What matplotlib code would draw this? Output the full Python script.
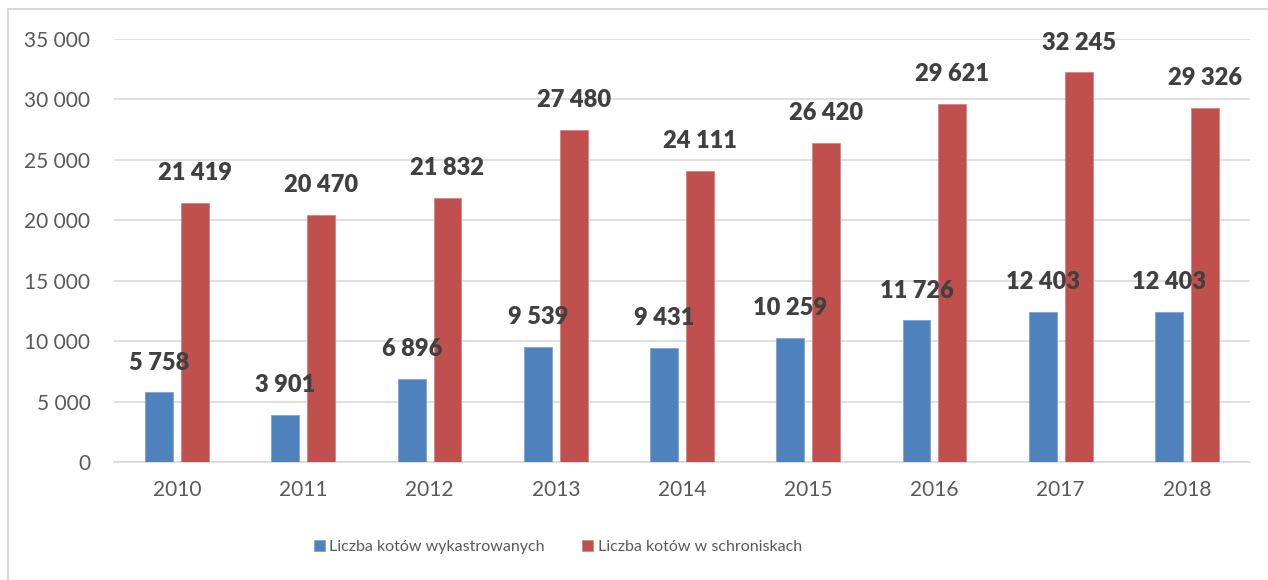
import matplotlib.pyplot as plt
import matplotlib.patches as patches
import numpy as np

years = ['2010', '2011', '2012', '2013', '2014', '2015', '2016', '2017', '2018']
wykastrowane = [5758, 3901, 6896, 9539, 9431, 10259, 11726, 12403, 12403]
schroniska = [21419, 20470, 21832, 27480, 24111, 26420, 29621, 32245, 29326]
labels = ['Liczba kotów wykastrowanych', 'Liczba kotów w schroniskach']
yticks = [0, 5000, 10000, 15000, 20000, 25000, 30000, 35000]

plt.rcParams['font.family'] = ['Lato', 'DejaVu Sans']

W, H = 1268, 580
fig = plt.figure(figsize=(W / 100, H / 100), dpi=100)
ax = fig.add_axes([114 / W, 1 - 462 / H, (1250 - 114) / W, (462 - 39) / H])

def fmt(v):
    # polish thousands separator (space)
    return f'{v:,}'.replace(',', ' ')

x = np.arange(len(years))
off = 0.142
bw = 0.221
b1 = ax.bar(x - off, wykastrowane, bw, color='#4F81BD', edgecolor='#7FA3D1', linewidth=0.6, label=labels[0], zorder=3)
b2 = ax.bar(x + off, schroniska, bw, color='#C0504D', edgecolor='#D58583', linewidth=0.6, label=labels[1], zorder=3)

for bars, vals in [(b1, wykastrowane), (b2, schroniska)]:
    for rect, v in zip(bars, vals):
        ax.annotate(fmt(v), (rect.get_x() + rect.get_width() / 2, v),
                    xytext=(0, 13.5), textcoords='offset points',
                    ha='center', va='bottom', fontsize=17, fontweight='heavy',
                    color='#404040', zorder=4)

ax.set_xlim(-0.5, len(years) - 0.5)
ax.set_ylim(0, 35000)
ax.set_yticks(yticks)
ax.set_yticklabels([fmt(v) for v in yticks])
ax.set_xticks(x)
ax.set_xticklabels(years)
ax.tick_params(axis='y', length=0, pad=17, labelsize=15, labelcolor='#595959')
ax.tick_params(axis='x', length=0, pad=13, labelsize=15, labelcolor='#595959')
ax.grid(axis='y', color='#D9D9D9', linewidth=1.2, zorder=0)
for s in ['top', 'right', 'left']:
    ax.spines[s].set_visible(False)
ax.spines['bottom'].set_color('#D9D9D9')
ax.spines['bottom'].set_linewidth(1.2)

leg = fig.legend(loc='center', bbox_to_anchor=(558 / W, 1 - 547 / H), ncol=2,
                 frameon=False, fontsize=11.5, handlelength=0.65, handleheight=0.65,
                 handletextpad=0.3, columnspacing=2.35)
for t in leg.get_texts():
    t.set_color('#595959')

# chart border (right/bottom edges fall outside the crop)
fig.patches.append(patches.Rectangle((8 / W, -0.1), 2, 1 - 9 / H + 0.1,
                                     transform=fig.transFigure, fill=False,
                                     edgecolor='#D9D9D9', linewidth=1.5))

fig.savefig('out.png', dpi=100)
